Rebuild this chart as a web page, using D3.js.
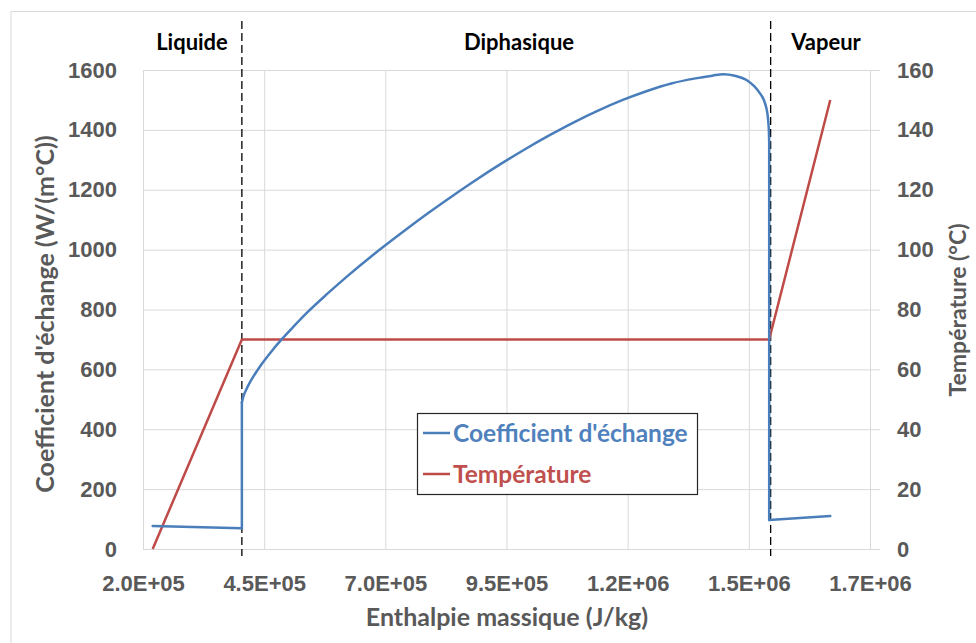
<!DOCTYPE html>
<html>
<head>
<meta charset="utf-8">
<script src="https://cdn.jsdelivr.net/npm/d3@7"></script>
<style>
  body { margin: 0; background: #fff; }
  svg { display: block; font-family: Lato, "Open Sans", sans-serif; }
</style>
</head>
<body>
<div id="chart"></div>
<script>
// values
const coefEnthalpy = [220000, 404000, 404000, 407000, 412000, 420000, 430000, 445000, 465000, 486000,
  510000, 540000, 580000, 620000, 690000, 740000, 790000, 840000, 890000, 940000,
  990000, 1040000, 1090000, 1140000, 1190000, 1240000, 1290000, 1340000, 1375000, 1397000,
  1421000, 1446000, 1461000, 1473000, 1481000, 1485000, 1488000, 1490000, 1491500, 1492000,
  1492000, 1618000];
const coefValues = [77, 69, 489, 509, 529, 555, 582, 618, 660, 700,
  742, 792, 852, 909, 1002, 1064, 1124, 1181, 1236, 1288,
  1337, 1383, 1426, 1465, 1500, 1530, 1555, 1572, 1581, 1586,
  1581, 1566, 1546, 1522, 1500, 1480, 1458, 1430, 1390, 1360,
  97, 110];

const tempEnthalpy = [220000, 404000, 1492000, 1618000];
const tempValues = [0, 70, 70, 150];

const phaseBounds = [404000, 1495000];
const phaseLabels = ["Liquide", "Diphasique", "Vapeur"];

const xTicks = [2.0e5, 4.5e5, 7.0e5, 9.5e5, 1.2e6, 1.45e6, 1.7e6];
const yLeftTicks = [0, 200, 400, 600, 800, 1000, 1200, 1400, 1600];
const yRightTicks = [0, 20, 40, 60, 80, 100, 120, 140, 160];

const seriesNames = ["Coefficient d'échange", "Température"];
const xTitle = "Enthalpie massique (J/kg)";
const yLeftTitle = "Coefficient d'échange (W/(m°C))";
const yRightTitle = "Température (°C)";

// layout
const width = 976, height = 643;
const plot = { left: 143, right: 870, top: 70, bottom: 549 };
const phaseLabelX = [192, 519, 826];
const blue = "#4a7ebb", red = "#be4b48", grid = "#d9d9d9", axisText = "#595959";

const svg = d3.select("#chart").append("svg")
  .attr("width", width).attr("height", height)
  .attr("viewBox", `0 0 ${width} ${height}`);

// chart area border
svg.append("rect")
  .attr("x", 11).attr("y", 11.5).attr("width", 980).attr("height", 640)
  .attr("fill", "none").attr("stroke", grid);

const x = d3.scaleLinear().domain([2e5, 1.7e6]).range([plot.left, plot.right]);
const yL = d3.scaleLinear().domain([0, 1600]).range([plot.bottom, plot.top]);
const yR = d3.scaleLinear().domain([0, 160]).range([plot.bottom, plot.top]);

const sci = d => {
  const [m, e] = d.toExponential(1).split("e");
  const n = +e;
  return m + "E" + (n < 0 ? "-" : "+") + String(Math.abs(n)).padStart(2, "0");
};

// grid
svg.append("g").selectAll("line").data(xTicks).enter().append("line")
  .attr("x1", d => x(d) + 0.5).attr("x2", d => x(d) + 0.5)
  .attr("y1", plot.top).attr("y2", plot.bottom)
  .attr("stroke", grid).attr("stroke-width", 1);

svg.append("g").selectAll("line").data(yLeftTicks).enter().append("line")
  .attr("x1", plot.left).attr("x2", plot.right + 10)
  .attr("y1", d => yL(d) + 0.5).attr("y2", d => yL(d) + 0.5)
  .attr("stroke", grid).attr("stroke-width", 1);

// axes (labels only, Excel style)
const xAxis = svg.append("g")
  .attr("transform", `translate(0,${plot.bottom})`)
  .call(d3.axisBottom(x).tickValues(xTicks).tickFormat(sci).tickSize(0).tickPadding(26));
const yAxisL = svg.append("g")
  .attr("transform", `translate(${plot.left},0)`)
  .call(d3.axisLeft(yL).tickValues(yLeftTicks).tickFormat(d3.format("d")).tickSize(0).tickPadding(26));
const yAxisR = svg.append("g")
  .attr("transform", `translate(${plot.right},0)`)
  .call(d3.axisRight(yR).tickValues(yRightTicks).tickFormat(d3.format("d")).tickSize(0).tickPadding(27));

[xAxis, yAxisL, yAxisR].forEach(g => {
  g.select(".domain").remove();
  g.selectAll("text")
    .attr("fill", axisText)
    .style("font-size", "22px")
    .style("font-weight", "bold");
});

// phase boundaries
svg.append("g").selectAll("line").data(phaseBounds).enter().append("line")
  .attr("x1", d => x(d)).attr("x2", d => x(d))
  .attr("y1", 21).attr("y2", 556)
  .attr("stroke", "#000").attr("stroke-width", 1.3)
  .attr("stroke-dasharray", "8,4");

svg.append("g").selectAll("text").data(phaseLabels).enter().append("text")
  .attr("x", (d, i) => phaseLabelX[i]).attr("y", 50)
  .attr("text-anchor", "middle")
  .style("font-size", "22px").style("font-weight", "bold")
  .attr("fill", "#000")
  .text(d => d);

// series
const coefData = coefEnthalpy.map((h, i) => [h, coefValues[i]]);
const tempData = tempEnthalpy.map((h, i) => [h, tempValues[i]]);

svg.append("path").datum(tempData)
  .attr("fill", "none").attr("stroke", red).attr("stroke-width", 2.5)
  .attr("stroke-linejoin", "round")
  .attr("d", d3.line().x(d => x(d[0])).y(d => yR(d[1])));

// split the blue series where enthalpy repeats (vertical jumps), smooth each run
const runs = [];
let run = [coefData[0]];
for (let i = 1; i < coefData.length; i++) {
  if (coefData[i][0] === coefData[i - 1][0]) {
    runs.push({ pts: run, smooth: true });
    runs.push({ pts: [coefData[i - 1], coefData[i]], smooth: false });
    run = [coefData[i]];
  } else run.push(coefData[i]);
}
runs.push({ pts: run, smooth: true });

const smoothLine = d3.line().x(d => x(d[0])).y(d => yL(d[1])).curve(d3.curveMonotoneX);
const straightLine = d3.line().x(d => x(d[0])).y(d => yL(d[1]));

svg.append("g").selectAll("path").data(runs).enter().append("path")
  .attr("fill", "none").attr("stroke", blue).attr("stroke-width", 2.5)
  .attr("stroke-linejoin", "round").attr("stroke-linecap", "round")
  .attr("d", r => (r.smooth ? smoothLine : straightLine)(r.pts));

// legend
const legend = svg.append("g");
legend.append("rect")
  .attr("x", 417.5).attr("y", 413.5).attr("width", 280).attr("height", 81)
  .attr("fill", "#fff").attr("stroke", "#262626").attr("stroke-width", 1.2);
[blue, red].forEach((c, i) => {
  const yy = 433 + i * 41;
  legend.append("line")
    .attr("x1", 423).attr("x2", 450).attr("y1", yy).attr("y2", yy)
    .attr("stroke", c).attr("stroke-width", 2.5);
  legend.append("text")
    .attr("x", 453).attr("y", yy).attr("dy", "0.35em")
    .style("font-size", "24.5px").style("font-weight", "bold")
    .attr("fill", i === 0 ? "#4f81bd" : "#c0504d")
    .text(seriesNames[i]);
});

// axis titles
svg.append("text")
  .attr("x", 507).attr("y", 617).attr("dy", "0.35em")
  .attr("text-anchor", "middle").attr("fill", axisText)
  .style("font-size", "25px").style("font-weight", "bold")
  .text(xTitle);

svg.append("text")
  .attr("transform", "translate(45,314) rotate(-90)")
  .attr("dy", "0.35em").attr("text-anchor", "middle").attr("fill", axisText)
  .style("font-size", "25px").style("font-weight", "bold")
  .text(yLeftTitle);

svg.append("text")
  .attr("transform", "translate(958,310) rotate(-90)")
  .attr("dy", "0.35em").attr("text-anchor", "middle").attr("fill", axisText)
  .style("font-size", "23px").style("font-weight", "bold")
  .text(yRightTitle);
</script>
</body>
</html>
